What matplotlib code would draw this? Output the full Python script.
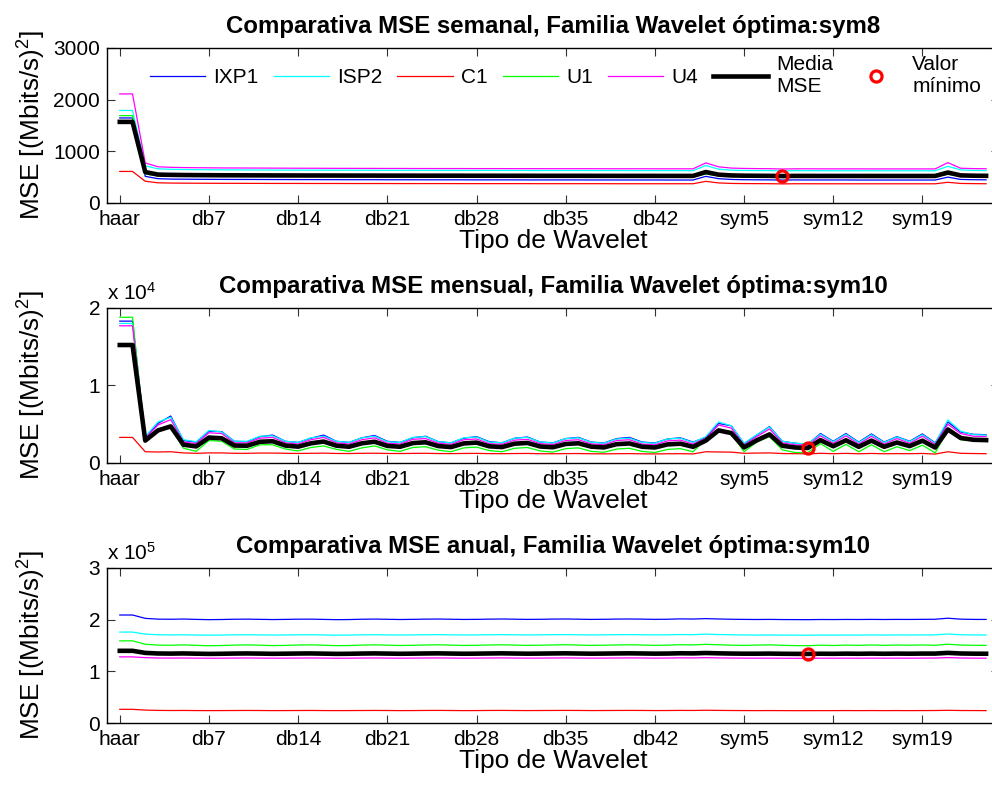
import numpy as np
import matplotlib.pyplot as plt
from matplotlib.ticker import FixedLocator, FuncFormatter

plt.rcParams['font.family'] = ['Liberation Sans', 'DejaVu Sans']
plt.rcParams['mathtext.default'] = 'regular'

# eje x: haar, db1..db45, sym2..sym24
wavelets = ['haar'] + ['db%d' % n for n in range(1, 46)] + ['sym%d' % n for n in range(2, 25)]
tick_names = ['haar', 'db7', 'db14', 'db21', 'db28', 'db35', 'db42', 'sym5', 'sym12', 'sym19']
series_names = ['IXP1', 'ISP2', 'C1', 'U1', 'U4']
series_colors = ['#0000ff', '#00ffff', '#ff0000', '#00ff00', '#ff00ff']

# ---- MSE semanal ----
sem_ixp1 = [1645, 1645, 515, 470, 462, 460, 458, 457, 456, 455,
            455, 454, 453, 453, 452, 452, 451, 451, 450, 450,
            450, 449, 449, 449, 448, 448, 448, 448, 447, 447,
            447, 447, 446, 446, 446, 446, 446, 445, 445, 445,
            445, 445, 445, 444, 444, 444, 515, 470, 455, 450,
            448, 447, 443, 446, 445, 445, 445, 445, 444, 444,
            444, 444, 444, 444, 444, 500, 455, 450, 448]
sem_isp2 = [1790, 1790, 720, 660, 652, 648, 645, 643, 641, 640,
            639, 638, 637, 636, 636, 635, 635, 634, 634, 633,
            633, 632, 632, 632, 631, 631, 631, 630, 630, 630,
            629, 629, 629, 628, 628, 628, 628, 627, 627, 627,
            627, 626, 626, 626, 626, 625, 725, 655, 635, 630,
            628, 627, 621, 625, 625, 625, 624, 624, 624, 624,
            623, 623, 623, 623, 623, 710, 640, 630, 627]
sem_c1 = [610, 610, 420, 390, 385, 383, 382, 381, 380, 380,
          379, 379, 378, 378, 378, 377, 377, 377, 376, 376,
          376, 376, 375, 375, 375, 375, 375, 374, 374, 374,
          374, 374, 374, 373, 373, 373, 373, 373, 373, 372,
          372, 372, 372, 372, 372, 372, 418, 388, 378, 375,
          374, 373, 369, 372, 372, 371, 371, 371, 371, 371,
          371, 371, 371, 371, 371, 400, 378, 374, 372]
sem_u1 = [1690, 1690, 560, 525, 530, 528, 527, 526, 525, 525,
          524, 524, 523, 523, 522, 522, 522, 521, 521, 521,
          520, 520, 520, 520, 519, 519, 519, 519, 518, 518,
          518, 518, 518, 517, 517, 517, 517, 517, 516, 516,
          516, 516, 516, 516, 515, 515, 560, 525, 520, 517,
          516, 515, 512, 514, 514, 514, 514, 514, 514, 514,
          514, 514, 514, 514, 514, 555, 522, 518, 516]
sem_u4 = [2110, 2110, 775, 700, 690, 685, 682, 680, 678, 677,
          676, 675, 674, 673, 672, 672, 671, 670, 670, 669,
          669, 668, 668, 667, 667, 666, 666, 666, 665, 665,
          665, 664, 664, 664, 663, 663, 663, 663, 662, 662,
          662, 662, 661, 661, 661, 661, 775, 700, 675, 668,
          665, 663, 657, 661, 661, 660, 660, 660, 660, 659,
          659, 659, 659, 659, 659, 780, 672, 665, 662]

# ---- MSE mensual ----
men_ixp1 = [18300, 18300, 3300, 5100, 6060, 2900, 2700, 4100, 4050, 2800,
            2750, 3400, 3600, 2800, 2650, 3200, 3600, 2800, 2650, 3250,
            3550, 2800, 2650, 3250, 3450, 2750, 2600, 3200, 3400, 2750,
            2600, 3200, 3350, 2700, 2600, 3150, 3300, 2700, 2580, 3150,
            3300, 2700, 2580, 3100, 3250, 2700, 3300, 5100, 4800, 2500,
            3600, 4700, 2800, 2550, 2400, 3800, 2800, 3800, 2700, 3750,
            2700, 3400, 2800, 3750, 2600, 5300, 4000, 3700, 3650]
men_isp2 = [18000, 18000, 3400, 5300, 5900, 3000, 2750, 4200, 4000, 2800,
            2800, 3450, 3500, 2800, 2650, 3250, 3450, 2800, 2650, 3250,
            3450, 2750, 2650, 3300, 3400, 2750, 2600, 3250, 3350, 2700,
            2600, 3200, 3300, 2700, 2580, 3150, 3250, 2680, 2560, 3100,
            3200, 2650, 2550, 3100, 3200, 2650, 3400, 5300, 4800, 2550,
            3650, 4650, 2800, 2550, 2450, 3700, 2750, 3700, 2650, 3650,
            2650, 3350, 2750, 3650, 2550, 5550, 4100, 3650, 3600]
men_c1 = [3300, 3300, 1450, 1420, 1450, 1300, 1250, 1300, 1300, 1250,
          1250, 1280, 1280, 1250, 1230, 1250, 1270, 1230, 1220, 1250,
          1260, 1230, 1220, 1240, 1250, 1220, 1210, 1230, 1240, 1210,
          1200, 1220, 1230, 1200, 1190, 1210, 1220, 1190, 1180, 1200,
          1210, 1180, 1170, 1190, 1200, 1170, 1450, 1420, 1400, 1250,
          1280, 1300, 1220, 1200, 1180, 1250, 1200, 1240, 1190, 1230,
          1190, 1210, 1200, 1230, 1150, 1450, 1250, 1220, 1200]
men_u1 = [18800, 18800, 3100, 4300, 4600, 1900, 1500, 2900, 2800, 1800,
          1750, 2350, 2350, 1800, 1550, 2000, 2200, 1750, 1500, 1950,
          2200, 1700, 1500, 2000, 2100, 1650, 1450, 1950, 2050, 1600,
          1450, 1900, 2000, 1550, 1400, 1850, 1950, 1500, 1380, 1800,
          1900, 1500, 1350, 1750, 1850, 1450, 3100, 4300, 3800, 1450,
          2700, 3400, 1700, 1350, 1350, 2500, 1500, 2400, 1450, 2350,
          1450, 2100, 1600, 2300, 1300, 4300, 3000, 2950, 2900]
men_u4 = [17700, 17700, 3200, 4900, 5600, 2700, 2500, 3900, 3800, 2600,
          2600, 3200, 3300, 2600, 2450, 3000, 3300, 2600, 2450, 3000,
          3250, 2550, 2450, 3050, 3150, 2550, 2400, 3000, 3100, 2500,
          2400, 2950, 3050, 2500, 2380, 2900, 3000, 2480, 2350, 2900,
          3000, 2450, 2350, 2850, 2950, 2450, 3200, 4900, 4500, 2300,
          3400, 4400, 2600, 2350, 2300, 3500, 2550, 3500, 2450, 3450,
          2450, 3150, 2550, 3450, 2400, 5000, 3800, 3450, 3400]

# ---- MSE anual ----
anu_ixp1 = [209000, 209000, 202500, 201000, 200800, 201200, 200500, 200000, 200300, 200800,
            201000, 200600, 200200, 200500, 200900, 201000, 200500, 200000, 200200, 200800,
            201100, 200700, 200300, 200600, 201000, 201200, 200800, 200400, 200600, 201000,
            201300, 200900, 200500, 200700, 201100, 201300, 200900, 200500, 200700, 201100,
            201300, 201000, 200600, 200800, 201500, 201200, 202000, 201300, 200800, 200500,
            200300, 200500, 200200, 200100, 200000, 200300, 200200, 200400, 200300, 200500,
            200300, 200500, 200400, 200600, 200800, 202800, 201000, 200500, 200400]
anu_isp2 = [176000, 176000, 172000, 170800, 170500, 170700, 170300, 170000, 170200, 170600,
            170800, 170500, 170200, 170400, 170700, 170800, 170400, 170000, 170200, 170600,
            170900, 170500, 170200, 170500, 170800, 171000, 170600, 170300, 170500, 170800,
            171000, 170700, 170400, 170600, 170900, 171100, 170700, 170400, 170600, 170900,
            171100, 170800, 170500, 170700, 171200, 171000, 172000, 171200, 170700, 170400,
            170200, 170400, 170100, 170000, 169900, 170200, 170100, 170300, 170200, 170400,
            170200, 170400, 170300, 170500, 170600, 172200, 170800, 170400, 170300]
anu_c1 = [26500, 26500, 25000, 24400, 24200, 24300, 24100, 24000, 24100, 24200,
          24300, 24200, 24000, 24100, 24200, 24300, 24100, 24000, 24100, 24200,
          24300, 24200, 24000, 24100, 24300, 24400, 24200, 24000, 24100, 24300,
          24400, 24200, 24100, 24200, 24300, 24400, 24300, 24100, 24200, 24300,
          24400, 24300, 24100, 24200, 24400, 24300, 24700, 24400, 24200, 24100,
          24000, 24100, 24000, 23900, 23900, 24000, 24000, 24100, 24000, 24100,
          24000, 24100, 24000, 24100, 24200, 24600, 24200, 24100, 24000]
anu_u1 = [159000, 159000, 152500, 150800, 150500, 151200, 150300, 149500, 150000, 150800,
          151200, 150600, 149800, 150200, 150900, 151300, 150500, 149700, 150000, 150800,
          151300, 150600, 150000, 150400, 151000, 151400, 150700, 150100, 150400, 151000,
          151400, 150800, 150200, 150500, 151100, 151500, 150800, 150200, 150500, 151100,
          151400, 150900, 150300, 150700, 151500, 151200, 152200, 151400, 150600, 150200,
          150800, 151200, 150400, 149800, 149600, 150600, 150000, 150800, 150200, 151000,
          150300, 151000, 150500, 151000, 150400, 152500, 150900, 150400, 150200]
anu_u4 = [128000, 128000, 126500, 125800, 125600, 125800, 125500, 125300, 125400, 125700,
          125800, 125600, 125400, 125500, 125700, 125800, 125600, 125300, 125400, 125700,
          125900, 125600, 125400, 125600, 125800, 125900, 125700, 125400, 125600, 125800,
          126000, 125700, 125500, 125600, 125800, 126000, 125700, 125500, 125600, 125800,
          126000, 125800, 125500, 125700, 126100, 125900, 126500, 126000, 125700, 125500,
          125400, 125500, 125300, 125200, 125100, 125400, 125300, 125500, 125300, 125500,
          125400, 125500, 125400, 125600, 125700, 126600, 125800, 125500, 125400]

panels = [
    ('Comparativa MSE semanal, Familia Wavelet óptima:sym8', 'sym8',
     [sem_ixp1, sem_isp2, sem_c1, sem_u1, sem_u4], 3000, 1000, 1, None),
    ('Comparativa MSE mensual, Familia Wavelet óptima:sym10', 'sym10',
     [men_ixp1, men_isp2, men_c1, men_u1, men_u4], 20000, 10000, 1e4, 4),
    ('Comparativa MSE anual, Familia Wavelet óptima:sym10', 'sym10',
     [anu_ixp1, anu_isp2, anu_c1, anu_u1, anu_u4], 300000, 100000, 1e5, 5),
]

fig = plt.figure(figsize=(9.92, 7.87), dpi=100)
x = np.arange(len(wavelets))
bottoms = [0.7421, 0.4117, 0.0813]

for k, (title, best, data, ymax, ystep, scale, expo) in enumerate(panels):
    ax = fig.add_axes([0.1079, bottoms[k], 0.899, 0.197])
    for vals, name, col in zip(data, series_names, series_colors):
        ax.plot(x, vals, color=col, lw=0.9, label=name)
    media = np.mean(np.array(data), axis=0)
    ax.plot(x, media, color='k', lw=3.3, label='Media\nMSE')
    i_best = wavelets.index(best)
    ax.plot(x[i_best], media[i_best], 'o', mfc='none', mec='r', ms=8, mew=2.3,
            label='Valor\nmínimo')

    ax.set_xlim(-1, len(wavelets))
    ax.set_ylim(0, ymax)
    ax.xaxis.set_major_locator(FixedLocator([wavelets.index(t) for t in tick_names]))
    ax.set_xticklabels(tick_names)
    ax.yaxis.set_major_locator(FixedLocator(np.arange(0, ymax + 1, ystep)))
    ax.yaxis.set_major_formatter(FuncFormatter(lambda v, p, s=scale: '%g' % (v / s)))
    ax.tick_params(direction='in', length=6, width=0.8, top=True, right=True,
                   labelsize=15, pad=5, colors='#333333', labelcolor='k')
    for sp in ax.spines.values():
        sp.set_linewidth(1.0)
    ax.set_title(title, fontsize=17.3, fontweight='bold', pad=11)
    ax.set_xlabel('Tipo de Wavelet', fontsize=19, labelpad=0)
    ax.set_ylabel('MSE [(Mbits/s)$^2$]', fontsize=18.8)
    ax.yaxis.set_label_coords(-0.066, 0.5)
    if expo is not None:
        ax.text(0, 1.03, 'x 10$^{%d}$' % expo, transform=ax.transAxes,
                ha='left', va='bottom', fontsize=15)
    if k == 0:
        ax.legend(ncol=7, loc='center left', bbox_to_anchor=(0.048, 0.819),
                  frameon=False, fontsize=15, handlelength=2.65, handletextpad=0.4,
                  columnspacing=0.72, borderpad=0, borderaxespad=0)

fig.savefig('out.png', dpi=100)
